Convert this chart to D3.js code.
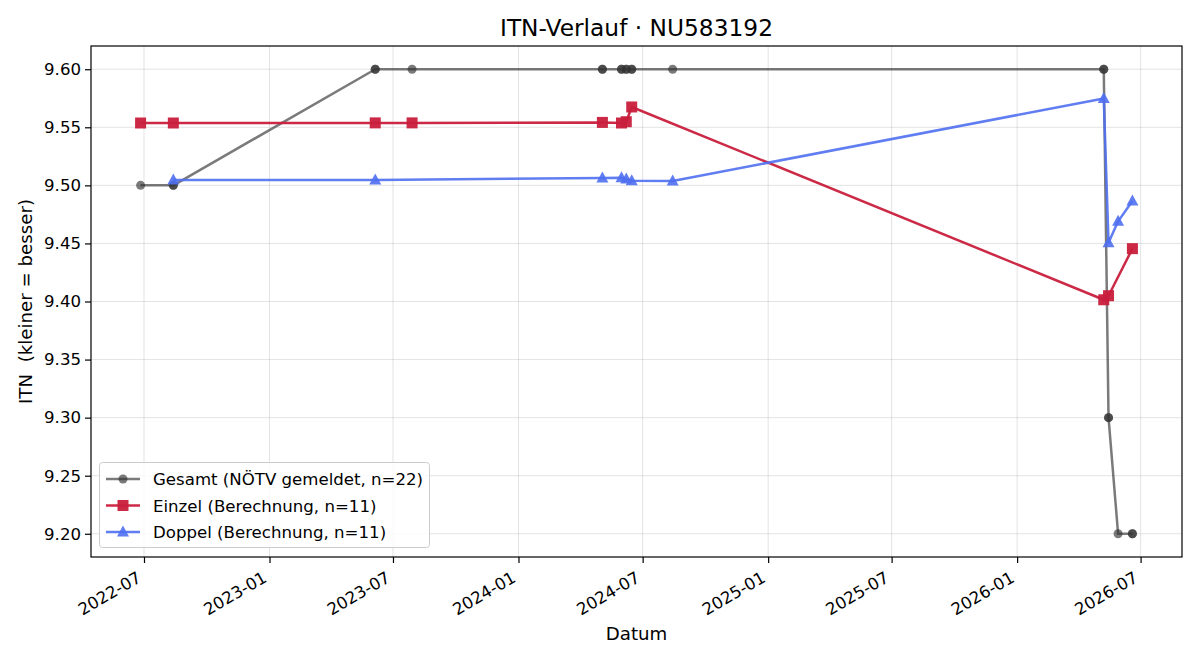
<!DOCTYPE html>
<html><head><meta charset="utf-8">
<script src="https://cdn.jsdelivr.net/npm/d3@7"></script>
<style>body{margin:0;background:#fff}svg,svg text{font-family:"DejaVu Sans",sans-serif}</style>
</head><body><svg id="c" width="1200" height="660"></svg>
<script>
const gesamtDates = ["2022-06-26","2022-08-13","2022-08-13","2023-06-05","2023-06-05","2023-07-29","2024-05-03","2024-05-03","2024-05-31","2024-05-31","2024-06-07","2024-06-07","2024-06-15","2024-06-15","2024-08-14","2026-05-08","2026-05-08","2026-05-15","2026-05-15","2026-05-29","2026-06-19","2026-06-19"];
const gesamtValues = [9.50,9.50,9.50,9.60,9.60,9.60,9.60,9.60,9.60,9.60,9.60,9.60,9.60,9.60,9.60,9.60,9.60,9.30,9.30,9.20,9.20,9.20];
const einzelDates = ["2022-06-26","2022-08-13","2023-06-05","2023-07-29","2024-05-03","2024-05-31","2024-06-07","2024-06-15","2026-05-08","2026-05-15","2026-06-19"];
const einzelValues = [9.5537,9.5537,9.5538,9.5538,9.5542,9.5537,9.5548,9.5675,9.4015,9.4050,9.4455];
const doppelDates = ["2022-08-13","2023-06-05","2024-05-03","2024-05-31","2024-06-07","2024-06-15","2024-08-14","2026-05-08","2026-05-15","2026-05-29","2026-06-19"];
const doppelValues = [9.5047,9.5047,9.5063,9.5065,9.5055,9.5040,9.5038,9.5748,9.4505,9.4690,9.4865];
const yTicks = [9.20,9.25,9.30,9.35,9.40,9.45,9.50,9.55,9.60];
const xTickDates = ["2022-07-01","2023-01-01","2023-07-01","2024-01-01","2024-07-01","2025-01-01","2025-07-01","2026-01-01","2026-07-01"];
const legendLabels = ["Gesamt (NÖTV gemeldet, n=22)","Einzel (Berechnung, n=11)","Doppel (Berechnung, n=11)"];

const parse = d3.utcParse("%Y-%m-%d");
const L=91,R=1182,T=46,B=557;
const FS=16.6;
const svg=d3.select("#c");
const allD=[...gesamtDates,...einzelDates,...doppelDates].map(parse);
const ext=d3.extent(allD);
const span=ext[1]-ext[0];
const x=d3.scaleUtc().domain([new Date(+ext[0]-span*0.05),new Date(+ext[1]+span*0.05)]).range([L,R]);
const y=d3.scaleLinear().domain([9.18,9.62]).range([B,T]);

// grid
const g=svg.append("g");
g.selectAll(".gx").data(xTickDates.map(parse)).enter().append("line")
 .attr("x1",d=>x(d)).attr("x2",d=>x(d)).attr("y1",T).attr("y2",B).attr("stroke","#b0b0b0").attr("stroke-opacity",0.35).attr("stroke-width",1);
g.selectAll(".gy").data(yTicks).enter().append("line")
 .attr("y1",d=>y(d)).attr("y2",d=>y(d)).attr("x1",L).attr("x2",R).attr("stroke","#b0b0b0").attr("stroke-opacity",0.35).attr("stroke-width",1);

const series=[
 {dates:gesamtDates,vals:gesamtValues,color:"#333333",op:0.65,shape:"circle"},
 {dates:einzelDates,vals:einzelValues,color:"#c81e3c",op:0.95,shape:"square"},
 {dates:doppelDates,vals:doppelValues,color:"#4f6ff0",op:0.9,shape:"triangle"}
];
const line=d3.line().x(d=>x(d[0])).y(d=>y(d[1]));
function marker(sel,shape,color,op){
  if(shape==="circle") sel.append("circle").attr("r",4.5).attr("fill",color).attr("fill-opacity",op).attr("stroke","none");
  else if(shape==="square") sel.append("rect").attr("x",-5.5).attr("y",-5.5).attr("width",11).attr("height",11).attr("fill",color).attr("fill-opacity",op);
  else sel.append("path").attr("d","M0,-6.5L6,4.5L-6,4.5Z").attr("fill",color).attr("fill-opacity",op);
}
svg.append("defs").append("clipPath").attr("id","cp").append("rect").attr("x",L).attr("y",T).attr("width",R-L).attr("height",B-T);
const plot=svg.append("g").attr("clip-path","url(#cp)");
series.forEach(s=>{
  const pts=s.dates.map((d,i)=>[parse(d),s.vals[i]]);
  plot.append("path").attr("d",line(pts)).attr("fill","none").attr("stroke",s.color).attr("stroke-opacity",s.op).attr("stroke-width",2.5).attr("stroke-linejoin","round");
  pts.forEach(p=>{
    const m=plot.append("g").attr("transform",`translate(${x(p[0])},${y(p[1])})`);
    marker(m,s.shape,s.color,s.op);
  });
});

// axes
const xa=svg.append("g").attr("transform",`translate(0,${B})`)
 .call(d3.axisBottom(x).tickValues(xTickDates.map(parse)).tickFormat(d3.utcFormat("%Y-%m")).tickSize(6).tickSizeOuter(0));
xa.attr("font-family","DejaVu Sans").attr("font-size",FS);
xa.selectAll("text").attr("fill","#000").attr("text-anchor","end")
 .attr("x",0).attr("y",0).attr("dy",0).attr("transform","translate(-2,24) rotate(-30)");
const ya=svg.append("g").attr("transform",`translate(${L},0)`)
 .call(d3.axisLeft(y).tickValues(yTicks).tickFormat(d3.format(".2f")).tickSize(6).tickSizeOuter(0));
ya.attr("font-family","DejaVu Sans").attr("font-size",FS);
ya.selectAll("text").attr("fill","#000").attr("x",-10);
svg.selectAll(".domain").remove();
svg.selectAll(".tick line").attr("stroke","#000").attr("stroke-width",1.2);
svg.append("rect").attr("x",L).attr("y",T).attr("width",R-L).attr("height",B-T).attr("fill","none").attr("stroke","#000").attr("stroke-width",1.2);

svg.append("text").attr("x",(L+R)/2).attr("y",36).attr("text-anchor","middle").attr("font-size",23.3).text("ITN-Verlauf · NU583192");
svg.append("text").attr("x",(L+R)/2).attr("y",640).attr("text-anchor","middle").attr("font-size",18.2).text("Datum");
svg.append("text").attr("transform",`translate(31.5,${(T+B)/2}) rotate(-90)`).attr("text-anchor","middle").attr("font-size",18.2)
 .style("white-space","pre").attr("xml:space","preserve").text("ITN  (kleiner = besser)");

// legend
const lg=svg.append("g");
lg.append("rect").attr("x",99.5).attr("y",462.5).attr("width",330).attr("height",85).attr("rx",3).attr("fill","#fff").attr("fill-opacity",0.8).attr("stroke","#cccccc");
series.forEach((s,i)=>{
  const yy=479+i*26.5;
  lg.append("line").attr("x1",106).attr("x2",140).attr("y1",yy).attr("y2",yy).attr("stroke",s.color).attr("stroke-opacity",s.op).attr("stroke-width",2.5);
  const m=lg.append("g").attr("transform",`translate(123,${yy})`);
  marker(m,s.shape,s.color,s.op);
  lg.append("text").attr("x",153).attr("y",yy+6).attr("font-size",FS).text(legendLabels[i]);
});
</script></body></html>
